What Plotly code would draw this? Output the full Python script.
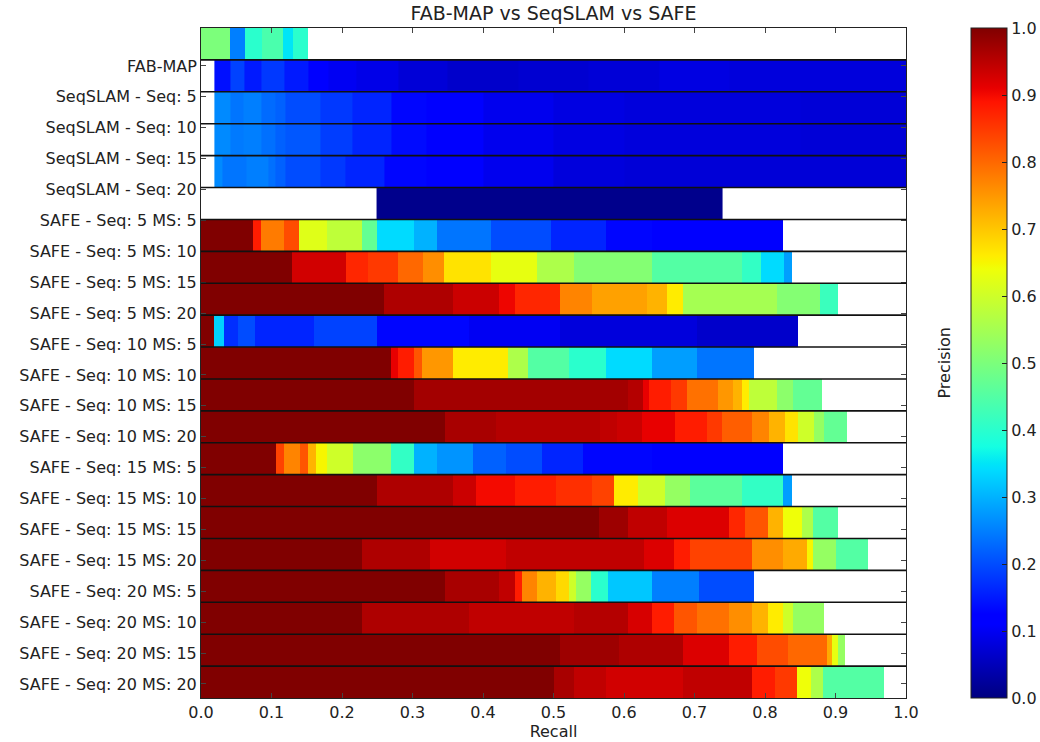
import numpy as np
import plotly.graph_objects as go

TITLE = "FAB-MAP vs SeqSLAM vs SAFE"
X_TITLE = "Recall"
CBAR_TITLE = "Precision"

ROW_LABELS = [
    "FAB-MAP",
    "SeqSLAM - Seq: 5", "SeqSLAM - Seq: 10", "SeqSLAM - Seq: 15", "SeqSLAM - Seq: 20",
    "SAFE - Seq: 5 MS: 5", "SAFE - Seq: 5 MS: 10", "SAFE - Seq: 5 MS: 15", "SAFE - Seq: 5 MS: 20",
    "SAFE - Seq: 10 MS: 5", "SAFE - Seq: 10 MS: 10", "SAFE - Seq: 10 MS: 15", "SAFE - Seq: 10 MS: 20",
    "SAFE - Seq: 15 MS: 5", "SAFE - Seq: 15 MS: 10", "SAFE - Seq: 15 MS: 15", "SAFE - Seq: 15 MS: 20",
    "SAFE - Seq: 20 MS: 5", "SAFE - Seq: 20 MS: 10", "SAFE - Seq: 20 MS: 15", "SAFE - Seq: 20 MS: 20",
]

# Recall bin edges (per band, top to bottom) and precision value of each bin
RECALL_EDGES = [
    [0, 0.041, 0.063, 0.087, 0.117, 0.131, 0.152],
    [0.019, 0.042, 0.061, 0.085, 0.118, 0.152, 0.18, 0.22, 0.28, 0.35, 0.45, 0.55, 0.65, 0.75, 0.85, 1.0],
    [0.019, 0.042, 0.06, 0.085, 0.105, 0.12, 0.17, 0.215, 0.27, 0.32, 0.4, 0.5, 0.6, 0.7, 0.85, 1.0],
    [0.019, 0.042, 0.06, 0.085, 0.105, 0.12, 0.17, 0.215, 0.27, 0.32, 0.4, 0.5, 0.6, 0.7, 0.85, 1.0],
    [0.019, 0.03, 0.065, 0.095, 0.105, 0.12, 0.17, 0.205, 0.26, 0.32, 0.4, 0.5, 0.6, 0.7, 0.85, 1.0],
    [0.249, 0.740],
    [0, 0.074, 0.085, 0.118, 0.139, 0.179, 0.228, 0.25, 0.302, 0.335, 0.412, 0.496, 0.574, 0.639, 0.826],
    [0, 0.129, 0.205, 0.237, 0.28, 0.315, 0.344, 0.412, 0.477, 0.529, 0.639, 0.768, 0.794, 0.827, 0.838],
    [0, 0.259, 0.357, 0.422, 0.445, 0.509, 0.555, 0.632, 0.661, 0.684, 0.817, 0.878, 0.904],
    [0, 0.019, 0.032, 0.053, 0.076, 0.16, 0.25, 0.38, 0.509, 0.704, 0.847],
    [0, 0.27, 0.28, 0.302, 0.313, 0.357, 0.435, 0.464, 0.522, 0.574, 0.639, 0.704, 0.784],
    [0, 0.302, 0.606, 0.627, 0.636, 0.667, 0.69, 0.733, 0.754, 0.768, 0.777, 0.817, 0.84, 0.881],
    [0, 0.346, 0.419, 0.566, 0.59, 0.626, 0.673, 0.718, 0.739, 0.781, 0.805, 0.828, 0.847, 0.869, 0.883, 0.916],
    [0, 0.107, 0.118, 0.14, 0.152, 0.163, 0.179, 0.215, 0.27, 0.302, 0.335, 0.386, 0.432, 0.483, 0.542, 0.639, 0.826],
    [0, 0.249, 0.357, 0.39, 0.445, 0.503, 0.555, 0.586, 0.62, 0.658, 0.694, 0.768, 0.826, 0.838],
    [0, 0.564, 0.606, 0.661, 0.749, 0.771, 0.804, 0.826, 0.852, 0.868, 0.904],
    [0, 0.228, 0.325, 0.432, 0.629, 0.671, 0.694, 0.781, 0.826, 0.859, 0.868, 0.9, 0.946],
    [0, 0.346, 0.422, 0.445, 0.456, 0.477, 0.503, 0.522, 0.532, 0.553, 0.577, 0.639, 0.707, 0.784],
    [0, 0.228, 0.38, 0.529, 0.606, 0.639, 0.671, 0.704, 0.749, 0.781, 0.804, 0.826, 0.839, 0.883],
    [0, 0.509, 0.593, 0.684, 0.749, 0.788, 0.833, 0.888, 0.895, 0.904, 0.914],
    [0, 0.5, 0.529, 0.574, 0.684, 0.781, 0.814, 0.846, 0.865, 0.882, 0.969],
]

PRECISION = [
    [0.5, 0.25, 0.40, 0.44, 0.35, 0.40],
    [0.14, 0.19, 0.15, 0.18, 0.15, 0.12, 0.10, 0.09, 0.075, 0.065, 0.07, 0.075, 0.085, 0.08, 0.08],
    [0.26, 0.24, 0.25, 0.23, 0.22, 0.20, 0.18, 0.16, 0.13, 0.11, 0.095, 0.085, 0.08, 0.08, 0.075],
    [0.26, 0.245, 0.25, 0.235, 0.22, 0.21, 0.185, 0.16, 0.135, 0.11, 0.095, 0.085, 0.08, 0.08, 0.075],
    [0.26, 0.24, 0.25, 0.235, 0.22, 0.20, 0.18, 0.16, 0.13, 0.11, 0.095, 0.08, 0.075, 0.075, 0.075],
    [0.01],
    [1.0, 0.88, 0.78, 0.83, 0.62, 0.58, 0.47, 0.34, 0.30, 0.24, 0.20, 0.16, 0.13, 0.115],
    [1.0, 0.93, 0.87, 0.85, 0.80, 0.76, 0.67, 0.63, 0.56, 0.51, 0.45, 0.41, 0.34, 0.28],
    [1.0, 0.96, 0.935, 0.905, 0.87, 0.77, 0.74, 0.72, 0.66, 0.55, 0.51, 0.42],
    [1.0, 0.33, 0.17, 0.20, 0.16, 0.19, 0.13, 0.10, 0.08, 0.065],
    [1.0, 0.91, 0.88, 0.82, 0.75, 0.66, 0.56, 0.45, 0.40, 0.34, 0.28, 0.24],
    [1.0, 0.97, 0.955, 0.91, 0.88, 0.85, 0.79, 0.75, 0.72, 0.66, 0.58, 0.52, 0.47],
    [1.0, 0.965, 0.955, 0.945, 0.935, 0.91, 0.88, 0.85, 0.81, 0.77, 0.72, 0.67, 0.60, 0.53, 0.47],
    [1.0, 0.84, 0.77, 0.82, 0.72, 0.65, 0.60, 0.52, 0.41, 0.30, 0.27, 0.22, 0.20, 0.16, 0.13, 0.115],
    [1.0, 0.96, 0.935, 0.90, 0.88, 0.86, 0.84, 0.66, 0.60, 0.53, 0.46, 0.41, 0.28],
    [1.0, 0.975, 0.945, 0.92, 0.87, 0.82, 0.72, 0.64, 0.56, 0.45],
    [1.0, 0.96, 0.93, 0.945, 0.92, 0.88, 0.84, 0.76, 0.73, 0.65, 0.53, 0.45],
    [1.0, 0.965, 0.945, 0.88, 0.77, 0.72, 0.68, 0.60, 0.53, 0.40, 0.32, 0.25, 0.20],
    [1.0, 0.96, 0.945, 0.955, 0.925, 0.88, 0.82, 0.79, 0.76, 0.72, 0.66, 0.60, 0.53],
    [1.0, 0.975, 0.96, 0.92, 0.88, 0.83, 0.80, 0.73, 0.63, 0.53],
    [1.0, 0.965, 0.945, 0.93, 0.945, 0.88, 0.85, 0.64, 0.56, 0.45],
]

X_TICKS = [0.0, 0.1, 0.2, 0.3, 0.4, 0.5, 0.6, 0.7, 0.8, 0.9, 1.0]
CBAR_TICKS = [0.0, 0.1, 0.2, 0.3, 0.4, 0.5, 0.6, 0.7, 0.8, 0.9, 1.0]

# label tick placement (in band units, measured from the top)
LABEL_FIRST = 1.19
LABEL_STEP = 0.9685

# matplotlib "jet" colormap
def jet_scale():
    stops = [0, 0.11, 0.125, 0.34, 0.35, 0.375, 0.64, 0.65, 0.66, 0.89, 0.91, 1.0]
    r = lambda v: np.interp(v, [0, 0.35, 0.66, 0.89, 1], [0, 0, 1, 1, 0.5])
    g = lambda v: np.interp(v, [0, 0.125, 0.375, 0.64, 0.91, 1], [0, 0, 1, 1, 0, 0])
    b = lambda v: np.interp(v, [0, 0.11, 0.34, 0.65, 1], [0.5, 1, 1, 0, 0])
    return [[s, "rgb(%d,%d,%d)" % (round(255 * r(s)), round(255 * g(s)), round(255 * b(s)))] for s in stops]

FONT = "DejaVu Sans"
fig = go.Figure()
n_rows = len(RECALL_EDGES)
for i in range(n_rows):
    fig.add_trace(go.Heatmap(
        x=RECALL_EDGES[i], y=[i, i + 1], z=[PRECISION[i]],
        coloraxis="coloraxis", zsmooth=False, hoverinfo="skip",
    ))

shapes = []
for i in range(1, n_rows):
    shapes.append(dict(type="line", xref="paper", x0=0, x1=1, yref="y", y0=i, y1=i,
                       line=dict(color="#111111", width=1.6), layer="above"))

tick_pos = [LABEL_FIRST + LABEL_STEP * k for k in range(len(ROW_LABELS))]

fig.update_layout(
    width=1040, height=742,
    margin=dict(l=201, r=134, t=28, b=44, autoexpand=False),
    paper_bgcolor="white", plot_bgcolor="white",
    font=dict(family=FONT, size=16, color="#222222"),
    title=dict(text=TITLE, x=0.5, xref="paper", y=1 - 13 / 742, yref="container",
               yanchor="middle", xanchor="center", font=dict(size=19, color="#222222")),
    shapes=shapes,
    coloraxis=dict(
        colorscale=jet_scale(), cmin=0, cmax=1,
        colorbar=dict(
            thickness=36, len=1, lenmode="fraction", y=0.5, yanchor="middle",
            x=(971 - 201) / 705, xanchor="left", xref="paper", xpad=0, ypad=0,
            outlinecolor="#222222", outlinewidth=1,
            tickvals=CBAR_TICKS, tickformat=".1f", ticks="inside", ticklen=5,
            tickcolor="#222222", tickfont=dict(size=16, family=FONT, color="#222222"),
        ),
    ),
    xaxis=dict(
        range=[0, 1], tickvals=X_TICKS, tickformat=".1f", ticks="inside", ticklen=5,
        showline=True, linecolor="#222222", linewidth=1, mirror="ticks",
        showgrid=False, zeroline=False, automargin=False,
        title=dict(text=X_TITLE, standoff=4, font=dict(size=16)),
    ),
    yaxis=dict(
        range=[n_rows, 0], tickvals=tick_pos, ticktext=ROW_LABELS, ticks="inside", ticklen=5,
        showline=True, linecolor="#222222", linewidth=1, mirror="ticks",
        showgrid=False, zeroline=False, automargin=False,
    ),
    annotations=[dict(text=CBAR_TITLE, xref="paper", yref="paper", x=(955 - 201) / 705, y=0.5,
                      textangle=-90, showarrow=False, font=dict(size=16, color="#222222"))],
)

fig.write_html("out.html")
